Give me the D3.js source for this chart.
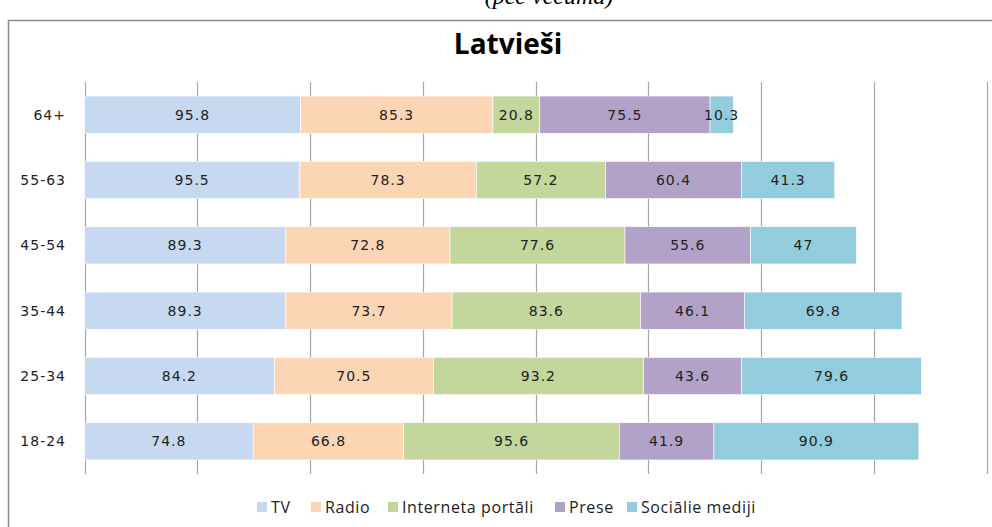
<!DOCTYPE html>
<html>
<head>
<meta charset="utf-8">
<script src="https://cdn.jsdelivr.net/npm/d3@7"></script>
<style>
  body { margin: 0; background: #fff; }
  svg { display: block; }
</style>
</head>
<body>
<svg id="chart" width="992" height="527"></svg>
<script>
// age groups, top to bottom
const groups = ["64+", "55-63", "45-54", "35-44", "25-34", "18-24"];
const seriesNames = ["TV", "Radio", "Interneta portāli", "Prese", "Sociālie mediji"];
const colors = ["#c6d9f1", "#fcd5b5", "#c3d69b", "#b3a2c7", "#93cddd"];

const tv       = [95.8, 95.5, 89.3, 89.3, 84.2, 74.8];
const radio    = [85.3, 78.3, 72.8, 73.7, 70.5, 66.8];
const internet = [20.8, 57.2, 77.6, 83.6, 93.2, 95.6];
const prese    = [75.5, 60.4, 55.6, 46.1, 43.6, 41.9];
const social   = [10.3, 41.3, 47, 69.8, 79.6, 90.9];

const xTicks = [0, 50, 100, 150, 200, 250, 300, 350, 400];

let svg = d3.select("#chart");

// rows for d3.stack
let rows = groups.map((g, i) => ({
    group: g,
    "TV": tv[i],
    "Radio": radio[i],
    "Interneta portāli": internet[i],
    "Prese": prese[i],
    "Sociālie mediji": social[i]
}));
let stacked = d3.stack().keys(seriesNames)(rows);

let x = d3.scaleLinear().domain([0, 400]).range([84.5, 986.5]);
let y = d3.scaleBand().domain(groups).range([82, 474]).paddingInner(0.43).paddingOuter(0.215);

// outer chart border
svg.append("rect")
    .attr("x", 8.5).attr("y", 20.5)
    .attr("width", 1000).attr("height", 520)
    .attr("fill", "none")
    .attr("stroke", "#8c8c8c")
    .attr("stroke-width", 1.5);

// subtitle, cut off at the top like in the source
svg.append("text")
    .attr("x", 549).attr("y", 4)
    .attr("text-anchor", "middle")
    .style("font-family", "'Liberation Serif', serif")
    .style("font-style", "italic")
    .style("font-size", "24px")
    .text("(pēc vecuma)");

// title
svg.append("text")
    .attr("x", 508).attr("y", 54)
    .attr("text-anchor", "middle")
    .style("font-family", "'Open Sans', sans-serif")
    .style("font-weight", "bold")
    .style("font-size", "28px")
    .text("Latvieši");

// vertical gridlines
svg.append("g").selectAll("line")
    .data(xTicks)
    .enter()
    .append("line")
    .attr("x1", d => Math.round(x(d)) + 0.5)
    .attr("x2", d => Math.round(x(d)) + 0.5)
    .attr("y1", 82).attr("y2", 474)
    .attr("stroke", "#a6a6a6")
    .attr("stroke-width", 1.2);

// bars
let layers = svg.append("g").selectAll("g")
    .data(stacked)
    .enter()
    .append("g")
    .attr("fill", (d, i) => colors[i]);

layers.selectAll("rect")
    .data(d => d)
    .enter()
    .append("rect")
    .attr("x", d => x(d[0]))
    .attr("y", d => y(d.data.group))
    .attr("width", d => x(d[1]) - x(d[0]))
    .attr("height", y.bandwidth())
    .attr("stroke", "#fff")
    .attr("stroke-width", 0.6);

// value labels
layers.selectAll("text")
    .data(d => d.map(v => ({v: v, key: d.key})))
    .enter()
    .append("text")
    .attr("x", d => (x(d.v[0]) + x(d.v[1])) / 2)
    .attr("y", d => y(d.v.data.group) + y.bandwidth() / 2 + 5)
    .attr("text-anchor", "middle")
    .attr("fill", "#222")
    .style("font-family", "'DejaVu Sans', Verdana, sans-serif")
    .style("font-size", "14px")
    .style("letter-spacing", "1px")
    .text(d => d.v.data[d.key]);

// category labels
svg.append("g").selectAll("text")
    .data(groups)
    .enter()
    .append("text")
    .attr("x", 66)
    .attr("y", d => y(d) + y.bandwidth() / 2 + 5)
    .attr("text-anchor", "end")
    .attr("fill", "#222")
    .style("font-family", "'DejaVu Sans', Verdana, sans-serif")
    .style("font-size", "14px")
    .style("letter-spacing", "1px")
    .text(d => d);

// legend
let legendX = [257, 311, 388, 555, 627];
let legend = svg.append("g").selectAll("g")
    .data(seriesNames)
    .enter()
    .append("g")
    .attr("transform", (d, i) => `translate(${legendX[i]}, 502)`);
legend.append("rect")
    .attr("width", 10).attr("height", 10)
    .attr("fill", (d, i) => colors[i]);
legend.append("text")
    .attr("x", 14).attr("y", 11)
    .attr("fill", "#222")
    .style("font-family", "'Open Sans', sans-serif")
    .style("font-size", "16px")
    .style("letter-spacing", "0.6px")
    .text(d => d);
</script>
</body>
</html>
